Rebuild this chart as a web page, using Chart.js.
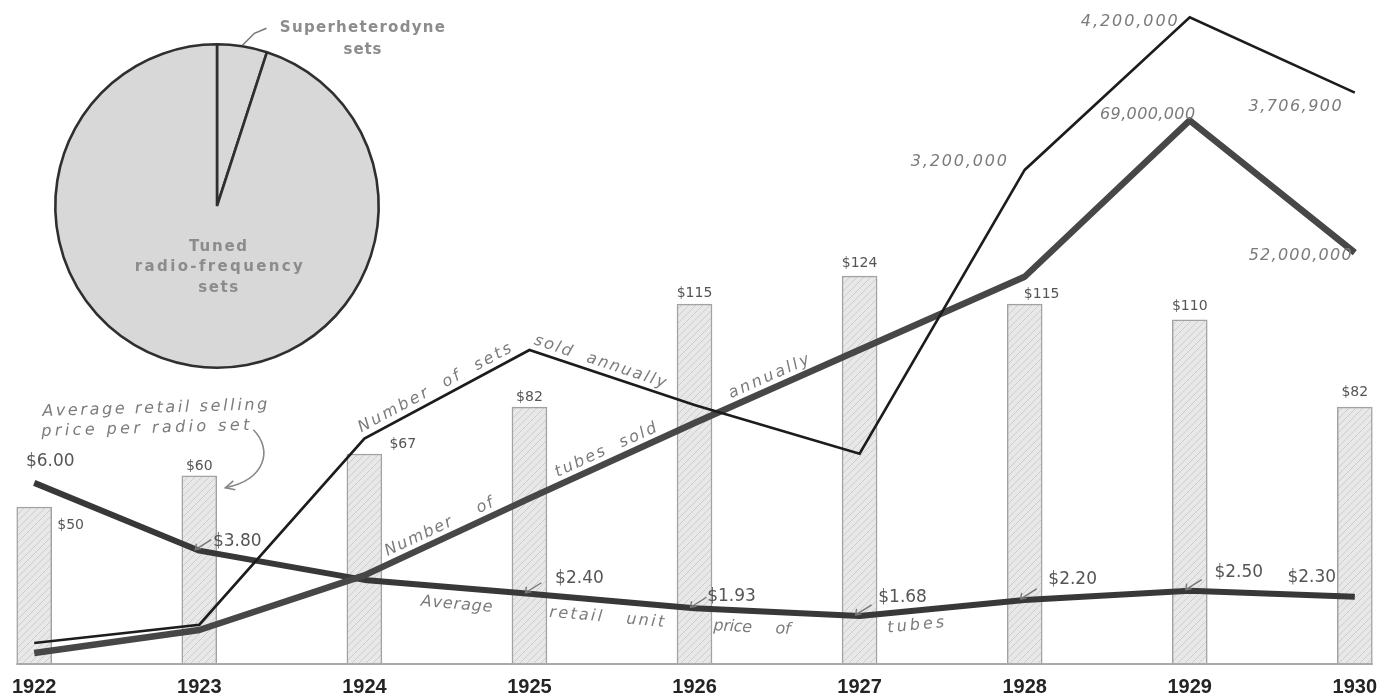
<!DOCTYPE html>
<html><head><meta charset="utf-8">
<script src="https://cdn.jsdelivr.net/npm/chart.js@4.4.1/dist/chart.umd.min.js"></script>
<style>
html,body{margin:0;padding:0;background:#fff;}
#wrap{position:relative;width:1389px;height:700px;overflow:hidden;}
#main{position:absolute;left:0;top:0;}
#pie{position:absolute;left:0;top:0;}
</style></head><body>
<div id="wrap"><canvas id="main" width="1389" height="700"></canvas><canvas id="pie" width="470" height="380"></canvas></div>
<script>
// ---------------- data ----------------
const years = [1922, 1923, 1924, 1925, 1926, 1927, 1928, 1929, 1930];
const setPrice = [50, 60, 67, 82, 115, 124, 115, 110, 82];
const setPriceLabels = ['$50', '$60', '$67', '$82', '$115', '$124', '$115', '$110', '$82'];
const setsSold = [100000, 220000, 1440000, 2020000, 1660000, 1340000, 3200000, 4200000, 3706900];
const setsSoldLabels = ['', '', '', '', '', '', '3,200,000', '4,200,000', '3,706,900'];
const tubesSold = [510000, 3470000, 10500000, 20400000, 30100000, 39500000, 48900000, 69000000, 52000000];
const tubesSoldLabels = ['', '', '', '', '', '', '', '69,000,000', '52,000,000'];
const tubePrice = [6.00, 3.80, 2.85, 2.40, 1.93, 1.68, 2.20, 2.50, 2.30];
const tubePriceLabels = ['$6.00', '$3.80', '', '$2.40', '$1.93', '$1.68', '$2.20', '$2.50', '$2.30'];
const pieLabels = ['Superheterodyne sets', 'Tuned radio-frequency sets'];
const pieValues = [5, 95];

// ---------------- helpers ----------------
const HAND = "'DejaVu Sans', sans-serif";
function setSpacing(ctx, s, width){
  if (!width || !('letterSpacing' in ctx)) return;
  ctx.letterSpacing = '0px';
  const w = ctx.measureText(s).width;
  const n = Math.max(s.length - 1, 1);
  ctx.letterSpacing = ((width - w) / n).toFixed(2) + 'px';
}
function txt(ctx, s, x, y, o){
  ctx.save();
  ctx.font = o.font; ctx.fillStyle = o.color || '#666';
  ctx.textAlign = o.align || 'center'; ctx.textBaseline = 'middle';
  setSpacing(ctx, s, o.width);
  ctx.translate(x, y);
  if (o.angle) ctx.rotate(o.angle);
  ctx.fillText(s, 0, 0);
  ctx.restore();
}
function along(ctx, s, p0, p1, t, off, o){
  const a = Math.atan2(p1.y - p0.y, p1.x - p0.x);
  const x = p0.x + (p1.x - p0.x) * t, y = p0.y + (p1.y - p0.y) * t;
  ctx.save();
  ctx.translate(x, y); ctx.rotate(a);
  ctx.font = o.font; ctx.fillStyle = o.color || '#777';
  ctx.textAlign = 'left'; ctx.textBaseline = 'middle';
  setSpacing(ctx, s, o.width);
  ctx.fillText(s, 0, off);
  ctx.restore();
}
function pt(chart, ds, i){ const e = chart.getDatasetMeta(ds).data[i]; return {x: e.x, y: e.y}; }

// hatch pattern for the bars
const mainCanvas = document.getElementById('main');
const mctx = mainCanvas.getContext('2d');
const hc = document.createElement('canvas'); hc.width = 7; hc.height = 7;
const hg = hc.getContext('2d');
hg.fillStyle = '#e8e8e8'; hg.fillRect(0, 0, 7, 7);
hg.strokeStyle = '#cdcdcd'; hg.lineWidth = 1;
hg.beginPath(); hg.moveTo(-1, 8); hg.lineTo(8, -1); hg.moveTo(-1, 1); hg.lineTo(1, -1); hg.moveTo(6, 8); hg.lineTo(8, 6); hg.stroke();
const hatch = mctx.createPattern(hc, 'repeat');

// ---------------- annotations ----------------
const barLabelPos = [
  {dx: 23, dy: 18, align: 'left'}, {dx: 0, dy: -9}, {dx: 25, dy: -10, align: 'left'},
  {dx: 0, dy: -10}, {dx: 0, dy: -11}, {dx: 0, dy: -13}, {dx: 17, dy: -10}, {dx: 0, dy: -13}, {dx: 0, dy: -15}
];
const tubePriceLabelPos = [
  {dx: 16, dy: -21}, {dx: 38, dy: -9}, null, {dx: 50, dy: -15}, {dx: 37, dy: -12},
  {dx: 43, dy: -18}, {dx: 48, dy: -20}, {dx: 49, dy: -18}, {dx: -43, dy: -19}
];
const setsLabelPos = [null, null, null, null, null, null,
  {dx: -16, dy: -8, align: 'right', w: 96}, {dx: -10, dy: 5, align: 'right', w: 97}, {dx: -59, dy: 14, w: 93}];
const tubesLabelPos = [null, null, null, null, null, null, null,
  {dx: -42, dy: -6, w: 95}, {dx: -54, dy: 3, w: 103}];

const annot = {
  id: 'annot',
  beforeDatasetsDraw(chart){
    const ctx = chart.ctx, xs = chart.scales.x, ca = chart.chartArea;
    ctx.save();
    ctx.strokeStyle = '#a9a9a9'; ctx.lineWidth = 2;
    ctx.beginPath();
    ctx.moveTo(xs.getPixelForValue(years[0]) - 18, ca.bottom + 1);
    ctx.lineTo(xs.getPixelForValue(years[years.length - 1]) + 18, ca.bottom + 1);
    ctx.stroke();
    ctx.restore();
  },
  afterDatasetsDraw(chart){
    const ctx = chart.ctx;
    const grey = '#7b7b7b', dark = '#555';
    setPriceLabels.forEach((s, i) => {
      const p = pt(chart, 3, i), o = barLabelPos[i];
      txt(ctx, s, p.x + o.dx, p.y + o.dy, {font: '14px ' + HAND, color: dark, align: o.align || 'center'});
    });
    tubePriceLabels.forEach((s, i) => {
      if (!s) return;
      const p = pt(chart, 2, i), o = tubePriceLabelPos[i];
      txt(ctx, s, p.x + o.dx, p.y + o.dy, {font: '17px ' + HAND, color: dark});
    });
    setsSoldLabels.forEach((s, i) => {
      if (!s) return;
      const p = pt(chart, 0, i), o = setsLabelPos[i];
      txt(ctx, s, p.x + o.dx, p.y + o.dy, {font: 'italic 16px ' + HAND, color: grey, align: o.align || 'center', width: o.w});
    });
    tubesSoldLabels.forEach((s, i) => {
      if (!s) return;
      const p = pt(chart, 1, i), o = tubesLabelPos[i];
      txt(ctx, s, p.x + o.dx, p.y + o.dy, {font: 'italic 16px ' + HAND, color: grey, align: o.align || 'center', width: o.w});
    });
    const f = 'italic 16px ' + HAND;
    along(ctx, 'Number  of  sets', pt(chart, 0, 2), pt(chart, 0, 3), 0.0, -11, {font: f, color: grey, width: 172});
    along(ctx, 'sold  annually', pt(chart, 0, 3), pt(chart, 0, 4), 0.01, -11, {font: f, color: grey, width: 138});
    along(ctx, 'Number    of', pt(chart, 1, 2), pt(chart, 1, 3), 0.16, -12, {font: f, color: grey, width: 118});
    along(ctx, 'tubes  sold', pt(chart, 1, 3), pt(chart, 1, 4), 0.19, -12, {font: f, color: grey, width: 110});
    along(ctx, 'annually', pt(chart, 1, 4), pt(chart, 1, 5), 0.24, -12, {font: f, color: grey, width: 87});
    along(ctx, 'Average', pt(chart, 2, 2), pt(chart, 2, 3), 0.35, 17, {font: f, color: grey, width: 72});
    along(ctx, 'retail   unit', pt(chart, 2, 3), pt(chart, 2, 4), 0.13, 17, {font: f, color: grey, width: 115});
    along(ctx, 'price     of', pt(chart, 2, 4), pt(chart, 2, 5), 0.12, 17, {font: f, color: grey, width: 77});
    along(ctx, 'tubes', pt(chart, 2, 5), pt(chart, 2, 6), 0.16, 15, {font: f, color: grey, width: 57});
    const b1 = pt(chart, 3, 1);
    txt(ctx, 'Average retail selling', b1.x - 157, b1.y - 64, {font: f, color: grey, align: 'left', width: 225, angle: -0.03});
    txt(ctx, 'price per radio set', b1.x - 158, b1.y - 44, {font: f, color: grey, align: 'left', width: 208, angle: -0.03});
    ctx.save();
    ctx.strokeStyle = '#888'; ctx.lineWidth = 1.6;
    const sx = b1.x + 54, sy = b1.y - 46, ex = b1.x + 26, ey = b1.y + 12;
    ctx.beginPath(); ctx.moveTo(sx, sy);
    ctx.bezierCurveTo(sx + 20, sy + 20, sx + 12, ey - 8, ex, ey);
    ctx.stroke();
    ctx.beginPath(); ctx.moveTo(ex + 8, ey - 7); ctx.lineTo(ex, ey); ctx.lineTo(ex + 10, ey + 2); ctx.stroke();
    ctx.strokeStyle = '#777'; ctx.lineWidth = 1.4;
    tubePriceLabels.forEach((s, i) => {
      if (!s || i === 0 || i === 8) return;
      const p = pt(chart, 2, i);
      ctx.beginPath(); ctx.moveTo(p.x - 4, p.y - 1); ctx.lineTo(p.x + 12, p.y - 11); ctx.stroke();
      ctx.beginPath(); ctx.moveTo(p.x - 3, p.y - 7); ctx.lineTo(p.x - 4, p.y - 1); ctx.lineTo(p.x + 2, p.y - 2); ctx.stroke();
    });
    ctx.restore();
  }
};

// ---------------- main chart ----------------
const xy = arr => years.map((y, i) => ({x: y, y: arr[i]}));
new Chart(mainCanvas, {
  data: {
    datasets: [
      {type: 'line', label: 'Number of sets sold annually', data: xy(setsSold), yAxisID: 'ySets',
       borderColor: '#1c1c1c', borderWidth: 2.6, pointRadius: 0, tension: 0, order: 1, clip: false, borderJoinStyle: 'miter'},
      {type: 'line', label: 'Number of tubes sold annually', data: xy(tubesSold), yAxisID: 'yTubes',
       borderColor: '#474747', borderWidth: 6.5, pointRadius: 0, tension: 0, order: 2, clip: false, borderJoinStyle: 'round'},
      {type: 'line', label: 'Average retail unit price of tubes', data: xy(tubePrice), yAxisID: 'yTube',
       borderColor: '#383838', borderWidth: 6, pointRadius: 0, tension: 0, order: 3, clip: false, borderJoinStyle: 'round'},
      {type: 'bar', label: 'Average retail selling price per radio set', data: xy(setPrice), yAxisID: 'yPrice',
       backgroundColor: hatch, borderColor: '#a2a2a2', borderWidth: 1.5, barThickness: 35, order: 10}
    ]
  },
  options: {
    responsive: false, animation: false, events: [], devicePixelRatio: 1,
    layout: {padding: 0},
    plugins: {legend: {display: false}, tooltip: {enabled: false}, title: {display: false}},
    scales: {
      x: {type: 'linear', min: 1921.8065, max: 1930.2045, offset: false,
          grid: {display: false, drawTicks: false, offset: false}, border: {display: false},
          ticks: {font: {family: "'Liberation Sans', Arial, sans-serif", weight: 'bold', size: 20}, color: '#242424',
                  padding: 12, maxRotation: 0, autoSkip: false, callback: v => String(v)},
          afterBuildTicks: s => { s.ticks = years.map(v => ({value: v})); },
          afterFit: s => { s.height = 37; }},
      ySets: {type: 'linear', display: false, min: -31060, max: 4313600},
      yTubes: {type: 'linear', display: false, min: -771600, max: 84490000},
      yTube: {type: 'linear', display: false, min: 0.1526, max: 21.678},
      yPrice: {type: 'linear', display: false, min: 0, max: 212.5}
    }
  },
  plugins: [annot]
});

// ---------------- pie chart ----------------
const pieText = {
  id: 'pieText',
  afterDatasetsDraw(chart){
    const ctx = chart.ctx;
    const a0 = chart.getDatasetMeta(0).data[0];
    const cx = a0.x, cy = a0.y, r = a0.outerRadius + 1;
    const mid = (a0.startAngle + a0.endAngle) / 2;
    const lx = cx + r * Math.cos(mid), ly = cy + r * Math.sin(mid);
    ctx.save();
    ctx.strokeStyle = '#777'; ctx.lineWidth = 1.6;
    ctx.beginPath(); ctx.moveTo(lx, ly); ctx.lineTo(lx + 12, ly - 12); ctx.lineTo(lx + 24, ly - 17); ctx.stroke();
    ctx.restore();
    const f = 'bold 15px ' + HAND, c = '#8c8c8c';
    txt(ctx, 'Superheterodyne', cx + 146, cy - 178, {font: f, color: c, width: 165});
    txt(ctx, 'sets', cx + 146, cy - 156, {font: f, color: c, width: 38});
    txt(ctx, 'Tuned', cx + 2, cy + 41, {font: f, color: c, width: 58});
    txt(ctx, 'radio-frequency', cx + 3, cy + 61, {font: f, color: c, width: 168});
    txt(ctx, 'sets', cx + 2, cy + 82, {font: f, color: c, width: 40});
  }
};
new Chart(document.getElementById('pie'), {
  type: 'pie',
  data: {labels: pieLabels, datasets: [{data: pieValues, backgroundColor: ['#d8d8d8', '#d8d8d8'],
         borderColor: '#2f2f2f', borderWidth: 2.6, hoverOffset: 0, offset: 0}]},
  options: {responsive: false, animation: false, events: [], devicePixelRatio: 1,
            layout: {padding: {left: 54, right: 90, top: 43, bottom: 11}},
            plugins: {legend: {display: false}, tooltip: {enabled: false}}},
  plugins: [pieText]
});
</script>
</body></html>
